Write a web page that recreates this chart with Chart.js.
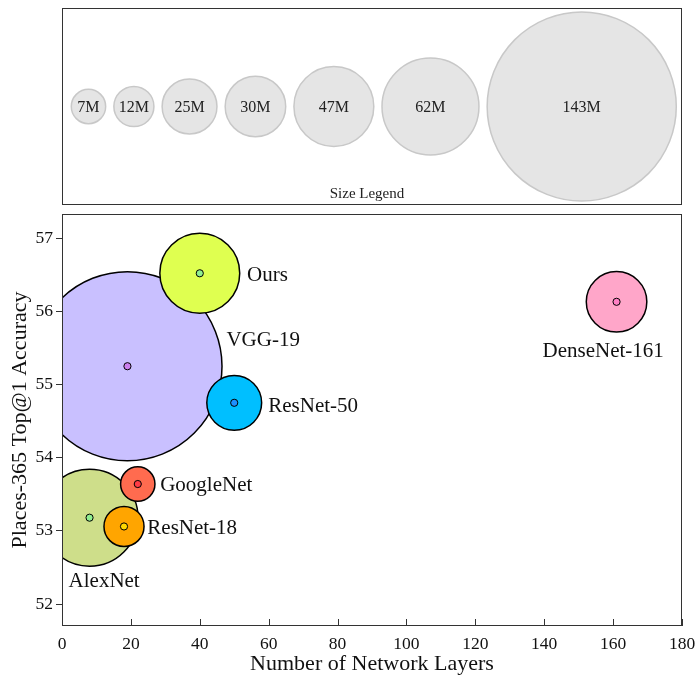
<!DOCTYPE html>
<html>
<head>
<meta charset="utf-8">
<script src="https://cdn.jsdelivr.net/npm/chart.js@4.4.1/dist/chart.umd.min.js"></script>
<style>
  body { margin: 0; background: #fff; }
  #wrap { position: relative; width: 699px; height: 675px; }
  canvas { position: absolute; left: 0; }
  #legendChart { top: 0; }
  #mainChart { top: 210px; }
</style>
</head>
<body>
<div id="wrap">
  <canvas id="legendChart" width="699" height="210"></canvas>
  <canvas id="mainChart" width="699" height="465"></canvas>
</div>
<script>
// models
const models = ['AlexNet', 'GoogleNet', 'ResNet-18', 'ResNet-50', 'VGG-19', 'DenseNet-161', 'Ours']
const layers = [8, 22, 18, 50, 19, 161, 40]
const accuracy = [53.18, 53.64, 53.06, 54.75, 55.25, 56.13, 56.52]
const params = [62, 7, 12, 25, 143, 30, 47] // millions

// size legend
const legendSizes = [7, 12, 25, 30, 47, 62, 143]

// ticks
const xTicks = [0, 20, 40, 60, 80, 100, 120, 140, 160, 180]
const yTicks = [52, 53, 54, 55, 56, 57]

// styles
const fillColors = ['#cede8a', '#ff6b4f', '#ffa500', '#00bfff', '#c9c0ff', '#ffa6c9', '#dfff50']
const dotColors = ['#90ee90', '#ff3b45', '#ffd700', '#1e90ff', '#cc80ee', '#ff80c4', '#90ee90']
const labelOffsets = {
  'AlexNet': [-21, 62.7],
  'GoogleNet': [22.4, 0],
  'ResNet-18': [23.3, 1],
  'ResNet-50': [34, 2.5],
  'VGG-19': [99, -27.5],
  'DenseNet-161': [-74, 47.7],
  'Ours': [47.3, 0.5]
}
const FONT = "'Liberation Serif', 'Times New Roman', serif"

// bubble radius (px) from parameter count
const radius = p => 13.2 + 0.569 * p

// ---------- size legend ----------
const gap = 8.2
let edge = 9.3
const legendX = []
legendSizes.forEach(p => {
  const r = radius(p)
  legendX.push(edge + r)
  edge += 2 * r + gap
})

const legendPlugin = {
  id: 'legendDeco',
  afterDraw(chart) {
    const {ctx, chartArea: a} = chart
    ctx.save()
    ctx.strokeStyle = '#333'
    ctx.lineWidth = 1
    ctx.strokeRect(Math.round(a.left) + 0.5, Math.round(a.top) + 0.5, Math.round(a.right - a.left) - 1, Math.round(a.bottom - a.top) - 1)
    ctx.fillStyle = '#222'
    ctx.textAlign = 'center'
    ctx.textBaseline = 'alphabetic'
    ctx.font = '16px ' + FONT
    chart.getDatasetMeta(0).data.forEach((el, i) => {
      ctx.fillText(legendSizes[i] + 'M', el.x, el.y + 5.3)
    })
    ctx.font = '15px ' + FONT
    ctx.fillText('Size Legend', (a.left + a.right) / 2 - 5, 198)
    ctx.restore()
  }
}

new Chart(document.getElementById('legendChart'), {
  type: 'bubble',
  data: {
    datasets: [{
      data: legendSizes.map((p, i) => ({x: legendX[i], y: 0, r: radius(p)})),
      backgroundColor: '#e5e5e5',
      borderColor: '#c8c8c8',
      borderWidth: 1.5
    }]
  },
  options: {
    responsive: false,
    animation: false,
    events: [],
    layout: {autoPadding: false, padding: {left: 62, right: 17, top: 8, bottom: 5}},
    plugins: {legend: {display: false}, tooltip: {enabled: false}},
    scales: {
      x: {display: false, min: 0, max: 620},
      y: {display: false, min: -1, max: 1}
    }
  },
  plugins: [legendPlugin]
})

// ---------- main chart ----------
const order = models.map((m, i) => i).sort((a, b) => params[b] - params[a])

const mainPlugin = {
  id: 'mainDeco',
  afterDraw(chart) {
    const {ctx, chartArea: a} = chart
    const xs = chart.scales.x
    ctx.save()
    ctx.strokeStyle = '#333'
    ctx.lineWidth = 1
    ctx.strokeRect(Math.round(a.left) + 0.5, Math.round(a.top) + 0.5, Math.round(a.right - a.left) - 1, Math.round(a.bottom - a.top) - 1)
    // inward x ticks
    ctx.beginPath()
    xTicks.forEach(v => {
      const px = Math.round(xs.getPixelForValue(v)) + 0.5
      ctx.moveTo(px, a.bottom)
      ctx.lineTo(px, a.bottom - 7)
    })
    ctx.stroke()
    // labels
    ctx.fillStyle = '#111'
    ctx.font = '21px ' + FONT
    ctx.textAlign = 'left'
    ctx.textBaseline = 'alphabetic'
    chart.getDatasetMeta(0).data.forEach((el, i) => {
      const off = labelOffsets[models[i]]
      ctx.fillText(models[i], el.x + off[0], el.y + off[1] + 7)
    })
    ctx.restore()
  }
}

new Chart(document.getElementById('mainChart'), {
  type: 'bubble',
  data: {
    datasets: [
      {
        // centre dots (drawn on top)
        data: models.map((m, i) => ({x: layers[i], y: accuracy[i]})),
        radius: 3.6,
        backgroundColor: dotColors,
        borderColor: '#000',
        borderWidth: 1,
        clip: 0
      },
      {
        data: order.map(i => ({x: layers[i], y: accuracy[i], r: radius(params[i])})),
        backgroundColor: order.map(i => fillColors[i]),
        borderColor: '#000',
        borderWidth: 1.5,
        clip: 0
      }
    ]
  },
  options: {
    responsive: false,
    animation: false,
    events: [],
    layout: {autoPadding: false, padding: {left: 0, right: 17, top: 4, bottom: 0}},
    plugins: {legend: {display: false}, tooltip: {enabled: false}},
    scales: {
      x: {
        type: 'linear',
        min: 0,
        max: 180,
        afterBuildTicks: s => { s.ticks = xTicks.map(v => ({value: v})) },
        afterFit: s => { s.height = 49; s.paddingLeft = 0; s.paddingRight = 0 },
        grid: {display: true, drawOnChartArea: false, drawTicks: false},
        border: {display: false},
        ticks: {font: {family: FONT, size: 17.5}, color: '#111', padding: 8, maxRotation: 0},
        title: {display: true, text: 'Number of Network Layers', font: {family: FONT, size: 22, lineHeight: 1}, color: '#111', padding: 0}
      },
      y: {
        type: 'linear',
        min: 51.7,
        max: 57.33,
        afterBuildTicks: s => { s.ticks = yTicks.map(v => ({value: v})) },
        afterFit: s => { s.width = 62; s.paddingTop = 0; s.paddingBottom = 0 },
        grid: {drawOnChartArea: false, tickLength: 6, color: '#333'},
        border: {display: false},
        ticks: {font: {family: FONT, size: 17.5}, color: '#111', padding: 3},
        title: {display: true, text: 'Places-365 Top@1 Accuracy', font: {family: FONT, size: 22, lineHeight: 1.2}, color: '#111', padding: 7}
      }
    }
  },
  plugins: [mainPlugin]
})
</script>
</body>
</html>
